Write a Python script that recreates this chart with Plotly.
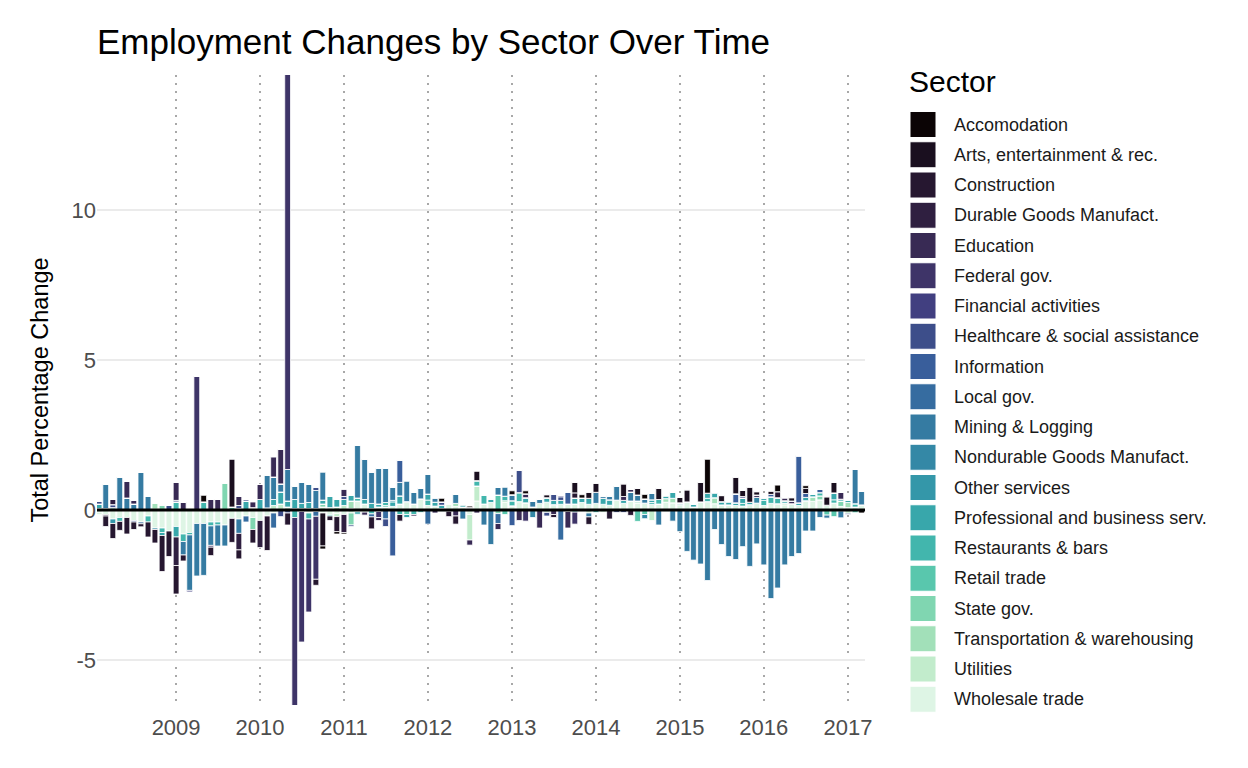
import pandas as pd
import plotly.graph_objects as go

# ---------------- data ----------------
months = pd.date_range("2008-02-01", periods=110, freq="MS")
year_ticks = ["2009", "2010", "2011", "2012", "2013", "2014", "2015", "2016", "2017"]

sectors = ["Accomodation", "Arts, entertainment & rec.", "Construction",
           "Durable Goods Manufact.", "Education", "Federal gov.",
           "Financial activities", "Healthcare & social assistance", "Information",
           "Local gov.", "Mining & Logging", "Nondurable Goods Manufact.",
           "Other services", "Professional and business serv.", "Restaurants & bars",
           "Retail trade", "State gov.", "Transportation & warehousing",
           "Utilities", "Wholesale trade"]

colors = ["#0b0405", "#1a0f1f", "#261730", "#2f1f40", "#382a54", "#3e3468",
          "#413f80", "#3d4e8a", "#395e9b", "#366ca0", "#357ba2", "#3488a6",
          "#3497a9", "#38a7ab", "#42b6ad", "#59c7ad", "#80d6b1", "#a2e0b9",
          "#c2eccc", "#def5e5"]

Z12 = [0] * 12

accomodation = ([0] * 11 +
                [0, 0, 0, 0, 0.22, 0, 0, 0, 0, 0, 0, 0] +
                [0, 0, 0, 0, 0, 0, 0, 0, 0, -0.10, 0, -0.08] +
                [-0.05, 0, 0, 0, 0, 0, 0, 0, 0, 0, 0, 0] +
                [0, 0, 0.12, 0, 0, 0, 0.05, 0, 0, 0, 0, 0] +
                [0.13, 0, 0.10, 0, 0, 0, 0, 0, 0, 0, 0.11, 0] +
                [0, 0, 0, 0, 0, 0, 0, 0.15, 0, 0, 0, 0] +
                [0, 0, 0, 0, 1.13, 0, 0, 0, 0, 0, 0, 0] +
                [0, 0, 0.22, 0, 0, 0, 0.09, 0, 0, 0, 0, 0] +
                [0, 0, -0.10])

arts = ([0] * 11 +
        [0, 0, 0, 0, 0, 0, 0, 0, 1.60, 0, 0, 0] +
        [0, 0, 0, 0, 0, 0, 0, 0, 0, -1.10, 0, 0] +
        Z12 +
        [0, 0, 0, 0, 0, 0, 0, 0.32, 0, 0, 0, 0] +
        [0, 0, 0, 0, 0, 0.10, 0, 0, 0, 0.35, 0, 0.20] +
        [0.30, 0, 0, 0, 0.42, 0, 0.22, 0, 0, 0.37, 0, 0] +
        [0.18, 0.40, 0, 0.65, 0, 0, 0.20, 0, 0.55, 0.20, 0.50, 0.11] +
        [0, 0.11, 0, 0, 0.11, 0, 0.17, 0, 0, 0.28, 0.35, 0] +
        [0, 0, 0])

construction = ([0, -0.35, -0.50, -0.30, -0.55, -0.25, -0.10, -0.50, -0.45, -1.20, -0.85] +
                [-0.95, -0.20, 0, 0, 0, -0.28, 0, 0, -0.80, -0.30, 0, -0.45] +
                [0, -1.15, 0, 0, -0.40, 0, 0, 0, -0.20, 0, -0.15, -0.50] +
                [0, 0, 0, 0, -0.40, 0, 0, 0, -0.22, 0, 0, 0] +
                [0, 0, 0, -0.18, -0.27, 0, 0, 0, 0, 0, 0, 0] +
                [0, 0, 0, 0, 0, 0, -0.10, 0, 0, 0.17, 0, -0.25] +
                [0, 0, -0.30, 0, 0, -0.18, 0, 0, 0, 0, 0, 0] +
                Z12 +
                [0, 0, 0.20, 0, 0, 0, 0, 0, 0, 0, 0, 0] +
                [0, 0, 0])

durable = ([0, -0.05, 0.17, 0, 0, 0, 0, 0, 0, 0, 0] +
           [-0.95, 0, 0, 0, 0, 0, 0, 0, 0, -0.55, 0, 0] +
           [-0.90, 0, 0, 0, 0, 0, 0, 0, 0, 0, 0, 0] +
           [-0.60, 0, 0, 0, 0, 0, 0, 0, 0, 0, 0, 0] +
           Z12 + Z12 + Z12 + Z12 + Z12 + [0, 0, 0])

education = ([0, 0, 0, 0, 0.55, 0.13, 0, 0, 0, 0, 0] +
             [0.60, 0.25, 0, 0, 0, 0.35, 0.35, 0, 0, 0.30, 0, 0.20] +
             [0.50, 0, 0.68, 1.15, 0, 0, 0, 0, 0, 0, 0, 0] +
             [0.25, 0, 0, -0.10, 0, -0.10, 0, 0, 0, 0, -0.05, 0] +
             [0, -0.10, 0, 0, -0.20, 0, -0.17, -0.10, 0, 0, -0.20, 0] +
             [0, -0.35, 0.13, 0, -0.60, 0, -0.15, 0, -0.55, 0, 0, 0] +
             [0, 0, 0, 0, 0.13, 0.09, 0, 0, 0, 0, 0, 0] +
             [0, 0, 0, 0, 0, 0, 0, 0, 0, 0, 0, 0.08] +
             [0, 0, 0, 0.10, 0.09, 0, 0, 0, 0, 0, 0, 0.23] +
             [0, 0, 0])

federal = ([0] * 11 +
           [0, 0, 0, 4.45, 0, -0.06, 0, 0, 0, 0, 0, 0] +
           [0, 0, 0, 0, 13.30, -6.30, -4.35, -3.10, -2.10, 0, 0, 0] +
           [0, 0, 0, 0, 0, -0.20, 0, 0, 0, 0, 0, 0] +
           Z12 +
           [0, 0, -0.37, 0, 0, 0, 0, 0, 0, -0.40, 0, 0] +
           Z12 + Z12 + Z12 + [0, 0, 0])

financial = ([0] * 11 +
             [0, 0, -0.05, 0, 0, 0, 0, 0, 0, 0, 0, 0] +
             Z12 + Z12 + Z12 +
             [0, 0, 0, 0, 0, 0, 0, 0.05, 0, 0, 0, 0] +
             Z12 +
             [0, 0, 0, 0, 0, 0, 0, 0, 0, 0.05, 0, 0] +
             Z12 + [0, 0, 0])

healthcare = ([0.10, 0, 0.10, 0, 0, -0.05, 0, 0, 0, 0, 0.15] +
              [0.05, 0, 0, 0, 0, 0, 0, 0, 0, 0.10, 0.05, 0] +
              [0, 0, 0, -0.22, -0.10, 0, -0.05, 0, 0.12, 0, 0, 0] +
              [0.10, -0.05, 0, 0, 0, 0, -0.25, 0, 0, 0, 0, 0] +
              [0, 0, 0.11, 0, 0, 0, 0, 0, 0, 0, 0, 0] +
              [0, 0.75, 0, 0, 0, -0.12, 0.20, 0.12, 0, 0, 0, 0] +
              [0, 0, 0, -0.08, -0.08, 0, 0, 0, 0, 0, 0, 0] +
              Z12 + Z12 +
              [-0.04, 0, 0])

information = ([0] * 11 + Z12 + Z12 +
               [0, 0, 0, 0, 0, 0, 0, -1.53, 0.75, 0, 0, 0] +
               Z12 +
               [-0.52, 0, 0, 0, 0, 0, 0, 0, 0.40, 0, 0, 0] +
               Z12 +
               [0, 0, 0, 0, 0, 0, 0, 0, 0.30, 0, 0, 0] +
               [0, 0.08, 0, 0, 0, 1.57, 0.13, 0, 0.11, 0, 0, 0] +
               [0, 0, 0])

local_gov = ([0, 0, 0, 0, 0, 0, -0.06, 0, 0, 0, 0] +
             [0, 0, 0, 0, 0, 0, 0, 0, 0, 0, -0.20, 0] +
             [0, 0, -0.50, 0, 0, 0, 0, 0, -0.16, 0, 0, 0] +
             [0, 0, 0, 0, -0.10, 0, -0.30, 0, 0, 0, 0, 0] +
             [-0.47, 0, 0, 0, 0, 0, 0, 0, 0, 0, -0.33, 0] +
             [0, 0, 0, 0, 0, 0, 0, -1.00, 0, 0, 0, 0] +
             Z12 + Z12 + Z12 + [0, 0, 0])

mining = ([0, 0.80, 0, 1.10, 0.40, 0.20, 1.25, 0.45, 0, 0, 0] +
          [0, -0.45, -1.85, -1.75, -1.73, -0.65, -0.70, -0.70, 0, -0.48, 0, 0] +
          [0, 1.10, 0.75, 0.27, 1.05, 0.45, 0.70, 0.60, 0.60, 0.95, 0, 0] +
          [0, 0, 1.75, 1.35, 1.05, 1.20, 1.15, 0.45, 0.45, 0.70, 0.40, 0.35] +
          [0.67, 0.15, 0, 0, 0.30, -0.30, 0, 0, -0.50, -1.15, 0.25, 0.32] +
          [0.20, 0, 0, 0.20, 0.13, 0, 0, 0, 0, 0, 0, -0.13] +
          [0.37, 0.08, 0.13, 0.47, 0, 0.30, 0.20, 0.14, 0.22, -0.50, 0, -0.37] +
          [-0.72, -1.38, -1.67, -1.80, -2.35, -0.65, -1.15, -1.55, -1.65, -1.22, -1.88, -1.13] +
          [-1.83, -2.95, -2.60, -1.83, -1.55, -1.45, -0.70, -0.70, -0.25, -0.10, 0, -0.23] +
          [0, 1.15, 0.45])

nondurable = ([0, 0, 0, 0, 0, 0, 0, 0, -0.05, 0, 0] +
              Z12 + Z12 + Z12 + Z12 +
              [0, 0, 0, -0.25, 0, 0, 0, 0, 0, 0, 0, 0] +
              [0, 0, 0, 0, 0, 0, 0, -0.14, 0, 0, 0, 0] +
              [0, 0, 0, 0, 0, 0, 0, 0, 0, 0, 0, 0.19] +
              Z12 + [0, 0, 0])

other_serv = ([0, 0, -0.15, 0, 0, 0, 0, 0, 0, 0, 0] +
              Z12 + Z12 +
              [0, 0, 0, 0, 0, 0, 0, 0.05, 0, 0, 0, 0] +
              Z12 + Z12 + Z12 + Z12 + Z12 + [0, 0, 0])

professional = ([0.15, 0, 0, 0, 0, 0, 0, 0, 0, -0.10, 0] +
                [-0.35, 0, 0, 0, 0, 0, 0, 0, 0, 0, 0.30, 0] +
                [0.35, 0, 0.20, 0.40, 0.20, 0.30, 0.17, 0.20, 0, 0.13, 0.37, 0.25] +
                [0.20, 0.20, -0.08, 0.15, 0.17, 0.10, 0, 0.15, 0.27, -0.10, 0, 0] +
                [0.20, 0.13, 0.11, 0, 0, 0.08, 0, 0, 0, 0.12, 0, 0] +
                [0, 0, 0.17, 0, 0, 0.15, 0.14, 0.13, 0, 0.20, 0.15, 0.20] +
                [0, 0.20, 0.18, 0, 0.10, 0, 0, 0, 0.09, 0, 0.10, 0.20] +
                [0.06, 0, 0.10, 0, 0.17, 0.17, 0.11, 0.11, 0.09, 0.18, 0.08, 0] +
                [0.09, 0, 0, 0.08, 0, 0.09, 0.11, 0.09, 0, 0, 0.23, 0.06] +
                [0.08, 0, 0])

restaurants = ([0.05, 0.05, 0.08, -0.13, 0, 0, 0, -0.20, 0, -0.15, 0] +
               [0.27, -0.25, -0.08, 0, 0.27, -0.13, -0.10, 0, 0, 0.05, 0, 0] +
               [0, 0.07, 0, 0, 0, -0.25, 0, -0.20, 0, 0, -0.05, 0] +
               [0, 0, 0.10, 0, -0.13, -0.05, 0.10, 0, -0.15, 0, -0.15, -0.08] +
               [0.18, 0, -0.05, -0.04, 0, 0, 0, 0.18, 0.30, 0, 0, 0.15] +
               [0.17, 0.30, 0, 0, 0, 0, 0, 0, -0.05, -0.07, 0, 0] +
               [-0.08, 0, 0, 0, 0, 0, 0, 0, 0.06, 0.15, -0.05, 0] +
               [0, 0, 0, 0, 0.11, 0, 0, 0, 0, 0.09, 0, 0] +
               [0.17, 0.22, 0.20, 0, 0, 0, 0, 0, 0.11, 0, 0.11, 0] +
               [0, 0.11, 0])

retail = ([0] * 11 +
          [0, 0, 0, 0, 0, 0, 0, 0, 0.10, 0, 0, 0] +
          Z12 +
          [0, 0, 0, 0, 0, 0, 0.05, 0, 0, -0.15, 0, 0] +
          [0, 0, 0, 0, 0, 0, 0, 0, 0, 0, 0.50, -0.15] +
          Z12 +
          [0, 0, 0, 0, 0, 0, -0.38, -0.15, 0, 0, 0, 0] +
          Z12 +
          [0, 0, 0, 0, 0, 0, 0, 0, 0, -0.17, -0.22, 0] +
          [0, -0.09, 0])

state_gov = ([0, 0, 0, 0, 0, 0, 0, 0, 0, 0.17, 0] +
             [0, 0, 0, 0, 0, 0, 0, 0.90, 0, 0, 0, -0.40] +
             [0, 0, 0, 0, 0, 0, 0, 0, 0, 0.10, 0, 0] +
             [0, -0.40, 0, 0, 0, 0, 0, 0, 0, 0, 0, 0] +
             [0, 0, 0, 0, 0, 0, 0, 0, 0, 0, -0.12, 0] +
             Z12 +
             [0, 0, 0, 0, 0, 0, 0.06, 0, 0, 0, 0, 0] +
             Z12 +
             [0, 0, 0, 0, 0, 0, 0, 0, 0.13, 0, 0, 0.18] +
             [0, 0, 0])

transport = ([0, 0, 0, 0, 0, 0, 0, 0, 0.20, 0, 0] +
             Z12 +
             [0, 0, 0, 0, 0, 0, 0, 0, 0, 0, 0, 0.10] +
             [0, 0.25, 0, 0, 0, 0, 0, 0, 0, 0, 0, 0] +
             [0, 0, 0, 0, 0.10, 0, 0.08, 0, 0, 0, 0, 0.06] +
             Z12 +
             [0, 0, 0, 0, 0, 0, 0, 0, 0, 0, 0.12, 0.15] +
             [0, 0, 0, 0, 0, 0.20, 0, 0, 0, 0, 0, 0] +
             [0, 0, 0, 0, 0, 0, 0, 0.15, 0, 0, 0, 0] +
             [0.17, 0, 0])

utilities = ([-0.05, 0, 0, 0, 0, 0, 0, 0, 0.03, 0, 0] +
             [0, 0, 0, 0, 0, 0, 0, 0, 0, 0, 0, 0.08] +
             [0, 0, 0.15, 0.20, 0.10, 0.05, 0.05, 0.05, 0.05, 0.10, 0.08, -0.10] +
             [0.15, -0.10, -0.06, -0.07, 0, 0, 0, 0, 0, 0, 0, 0] +
             [0, 0, 0, 0, 0, 0, -0.85, 0.50, 0, 0, 0, 0] +
             [0, 0, 0, 0, 0, -0.08, 0, 0, 0, 0, -0.05, -0.10] +
             [0, -0.07, 0, 0, 0, 0, 0, 0, -0.35, 0, 0, 0] +
             Z12 +
             [0, 0, 0, 0.06, 0, 0, 0, 0, 0, 0, 0, -0.03] +
             [-0.11, 0, 0])

wholesale = ([-0.10, -0.15, -0.30, -0.25, -0.25, -0.35, -0.40, -0.20, -0.60, -0.60, -0.70] +
             [-0.55, -0.80, -0.75, -0.45, -0.45, -0.40, -0.40, -0.50, -0.28, -0.30, -0.20, -0.25] +
             [-0.35, -0.20, -0.10, 0, 0, 0, 0, -0.10, -0.05, -0.10, -0.15, -0.12] +
             [-0.15, 0.05, 0.30, 0.20, 0.05, 0.10, 0.10, 0.12, 0.20, 0.28, 0.20, 0.37] +
             [0.15, 0.13, 0.05, 0.20, 0.12, 0.10, -0.15, 0.30, 0.20, 0.25, 0, 0.25] +
             [0.14, 0.28, 0.24, 0.10, 0.22, 0.26, 0.18, 0.19, 0.20, 0.20, 0.25, 0.19] +
             [0.22, 0.19, 0.16, 0.33, 0.22, 0.30, 0.24, 0.23, 0.19, 0.20, 0.26, 0.24] +
             [0.18, 0.27, 0.10, 0.27, 0.28, 0.21, 0.17, 0.17, 0.15, 0.13, 0.18, 0.23] +
             [0.15, 0.22, 0.21, 0.17, 0.21, 0.15, 0.31, 0.29, 0.34, 0.16, 0.23, 0.12] +
             [0.08, 0.10, 0.17])

values = [accomodation, arts, construction, durable, education, federal,
          financial, healthcare, information, local_gov, mining, nondurable,
          other_serv, professional, restaurants, retail, state_gov, transport,
          utilities, wholesale]

for name, v in zip(sectors, values):
    if len(v) != len(months):
        raise ValueError(f"{name}: {len(v)} values")

# ---------------- layout geometry (pixels, page coords) ----------------
OFF = 8                      # page body margin of the html page
W, H = 1248 - OFF, 768 - OFF
PL, PR, PT, PB = 97 - OFF, 865 - OFF, 75 - OFF, 705 - OFF
DAY_MS = 86400000
BAR_W = 25.2 * DAY_MS
FONT = "Liberation Sans"


def px_x(px):
    return (px - OFF - PL) / (PR - PL)


def px_y(py):
    return (PB - (py - OFF)) / (PB - PT)


fig = go.Figure()
# stack order: last sector nearest zero
for name, col, v in reversed(list(zip(sectors, colors, values))):
    fig.add_trace(go.Bar(
        x=months, y=v, name=name, width=BAR_W,
        marker=dict(color=col, line=dict(color="white", width=0.8)),
        showlegend=False,
    ))

shapes = [dict(type="line", xref="paper", yref="y", x0=0, x1=1, y0=0, y1=0,
               line=dict(color="black", width=3), layer="above")]
annotations = [dict(text="Sector", xref="paper", yref="paper",
                    x=px_x(907), y=px_y(82), xanchor="left", yanchor="middle",
                    showarrow=False, font=dict(family=FONT, size=30, color="#000000"))]

row0, step = 124.5, 30.25
for i, (name, col) in enumerate(zip(sectors, colors)):
    yc = row0 + i * step
    shapes.append(dict(type="rect", xref="paper", yref="paper",
                       x0=px_x(910), x1=px_x(936), y0=px_y(yc + 13), y1=px_y(yc - 13),
                       fillcolor=col, line=dict(color="white", width=1), layer="above"))
    annotations.append(dict(text=name, xref="paper", yref="paper",
                            x=px_x(952), y=px_y(yc), xanchor="left", yanchor="middle",
                            showarrow=False,
                            font=dict(family=FONT, size=18, color="#1a1a1a")))

fig.update_layout(
    width=W, height=H,
    barmode="relative",
    plot_bgcolor="white", paper_bgcolor="white",
    margin=dict(l=PL, r=W - PR, t=PT, b=H - PB, pad=0),
    font=dict(family=FONT, color="#000000"),
    title=dict(text="Employment Changes by Sector Over Time",
               x=PL / W, xanchor="left", xref="container",
               y=1 - (42 - OFF) / H, yanchor="middle", yref="container",
               font=dict(family=FONT, size=35, color="#000000")),
    shapes=shapes,
    annotations=annotations,
    showlegend=False,
    xaxis=dict(type="date", range=["2008-01-23", "2017-03-16"],
               tickvals=[f"{y}-01-01" for y in year_ticks], ticktext=year_ticks,
               tickfont=dict(family=FONT, size=22, color="#4d4d4d"),
               showgrid=True, gridcolor="#a8a8a8", gridwidth=1.6, griddash="2px,6px",
               zeroline=False, showline=False, ticks="", ticklabelstandoff=7),
    yaxis=dict(range=[-6.5, 14.5],
               tickvals=[-5, 0, 5, 10], ticktext=["-5", "0", "5", "10"],
               tickfont=dict(family=FONT, size=22, color="#4d4d4d"),
               showgrid=True, gridcolor="#ebebeb", gridwidth=2,
               zeroline=False, showline=False, ticks="",
               title=dict(text="Total Percentage Change", standoff=16,
                          font=dict(family=FONT, size=23.5, color="#000000"))),
)

fig.write_html("out.html")
